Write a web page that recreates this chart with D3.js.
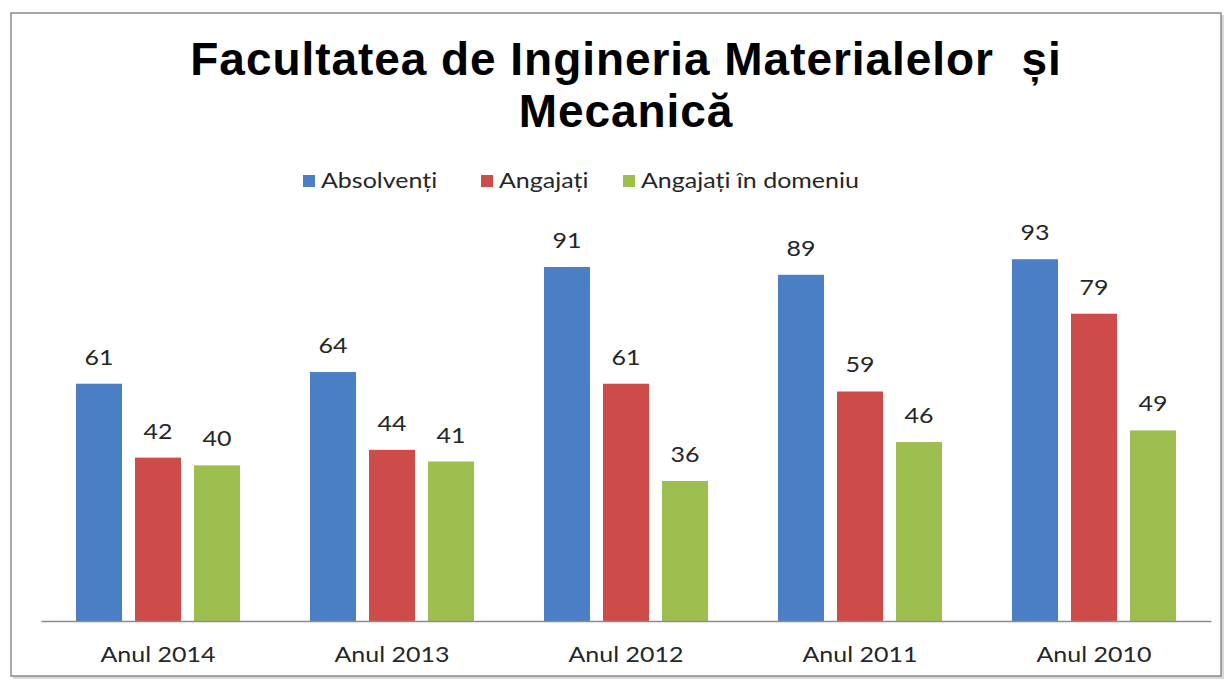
<!DOCTYPE html>
<html><head><meta charset="utf-8">
<script src="https://cdn.jsdelivr.net/npm/d3@7"></script>
<style>body{margin:0;background:#fff}</style>
</head><body>
<svg id="c" width="1230" height="684"></svg>
<script>
const categories = ["Anul 2014","Anul 2013","Anul 2012","Anul 2011","Anul 2010"];
const seriesNames = ["Absolvenți","Angajați","Angajați în domeniu"];
const absolventi = [61,64,91,89,93];
const angajati = [42,44,61,59,79];
const angajatiDomeniu = [40,41,36,46,49];
const colors = ["#4a7fc6","#cd4b48","#9cbf4f"];
const titleLines = ["Facultatea de Ingineria Materialelor  și","Mecanică"];

const series = [absolventi, angajati, angajatiDomeniu];
const svg = d3.select("#c");
const SX = 1.19; // horizontal stretch of small text
const FONT = "Lato, 'Open Sans', sans-serif";

// frame
svg.append("rect").attr("x",13).attr("y",15).attr("width",1211).attr("height",664).attr("fill","#d8d8d8");
svg.append("rect").attr("x",11).attr("y",13).attr("width",1210).attr("height",663).attr("fill","#fff").attr("stroke","#8a8a8a").attr("stroke-width",1.5);

const x0 = d3.scaleBand().domain(categories).range([41,1211]).paddingInner(0).paddingOuter(0);
const x1 = d3.scaleBand().domain(d3.range(3)).range([0,x0.bandwidth()]).paddingInner(0.22).paddingOuter(0.593);
const y = d3.scaleLinear().domain([0,100]).range([621,232]);

// title
svg.append("g").selectAll("text").data(titleLines).join("text")
  .attr("x",626).attr("y",(d,i)=>75+i*52).attr("text-anchor","middle")
  .attr("font-family","Liberation Sans, Arial, sans-serif").attr("font-weight","bold")
  .attr("font-size",46).attr("letter-spacing",0.95).attr("fill","#000")
  .style("white-space","pre").attr("xml:space","preserve").text(d=>d);

// legend
const legX = [303,481,623];
const lg = svg.append("g").selectAll("g").data(seriesNames).join("g")
  .attr("transform",(d,i)=>`translate(${legX[i]},181)`);
lg.append("rect").attr("x",0).attr("y",-6).attr("width",12).attr("height",12).attr("fill",(d,i)=>colors[i]);
lg.append("text").attr("transform",`translate(18,7) scale(${SX},1)`).attr("font-family",FONT)
  .attr("font-size",21).attr("fill","#262626").text(d=>d);

// bars
const groups = svg.append("g").selectAll("g").data(categories).join("g")
  .attr("transform",d=>`translate(${x0(d)},0)`);
const cells = (c,ci)=>series.map((s,si)=>({si,v:s[ci]}));
groups.selectAll("rect").data(cells).join("rect")
  .attr("x",d=>x1(d.si)).attr("width",x1.bandwidth())
  .attr("y",d=>y(d.v)).attr("height",d=>y(0)-y(d.v))
  .attr("fill",d=>colors[d.si]);
groups.selectAll("text").data(cells).join("text")
  .attr("transform",d=>`translate(${x1(d.si)+x1.bandwidth()/2},${y(d.v)-19}) scale(${SX},1)`)
  .attr("text-anchor","middle").attr("font-family",FONT)
  .attr("font-size",21).attr("fill","#262626").text(d=>d.v);

// axis
const ax = svg.append("g").attr("transform","translate(0,621)")
  .call(d3.axisBottom(x0).tickSize(0).tickPadding(26));
ax.select(".domain").attr("stroke","#8c8c8c").attr("stroke-width",1.3);
ax.selectAll(".tick text").attr("font-family",FONT).attr("font-size",21).attr("fill","#262626")
  .attr("transform",`scale(${SX},1)`);
</script>
</body></html>
